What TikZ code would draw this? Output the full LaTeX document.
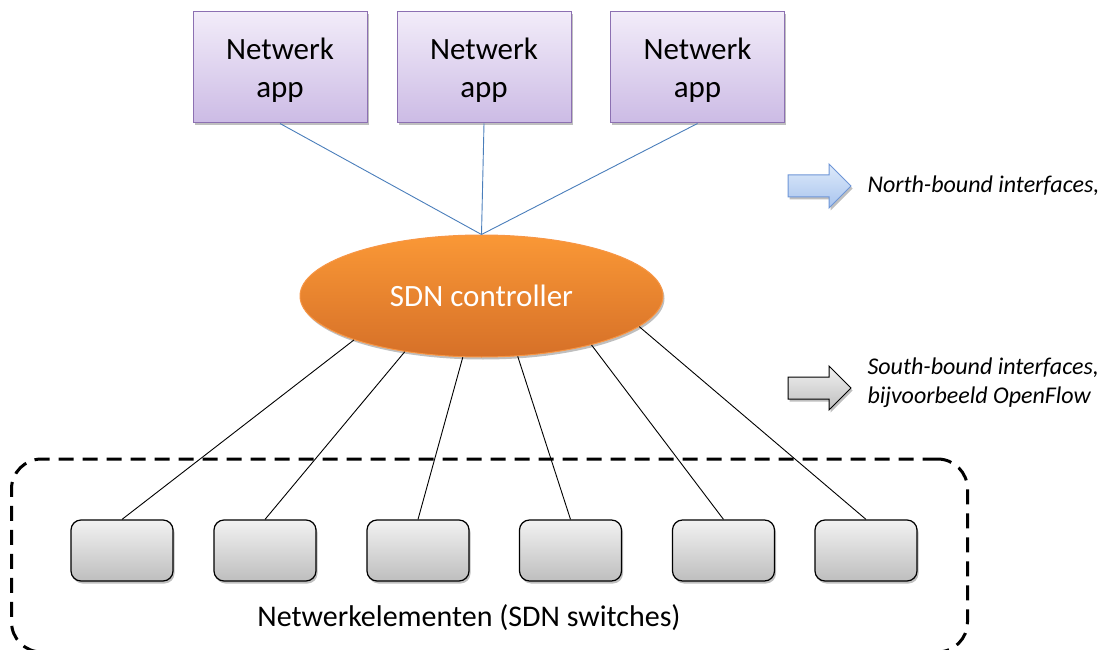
\documentclass[tikz,border=0pt]{standalone}
\usepackage{fontspec}
\setmainfont{Carlito}
\usetikzlibrary{shapes.geometric,shapes.arrows,shadows}

\definecolor{appTop}{RGB}{242,236,249}
\definecolor{appBot}{RGB}{204,187,229}
\definecolor{appLine}{RGB}{140,112,178}
\definecolor{ctlTop}{RGB}{250,152,54}
\definecolor{ctlBot}{RGB}{214,112,40}
\definecolor{ctlLine}{RGB}{247,150,70}
\definecolor{swTop}{RGB}{242,242,242}
\definecolor{swBot}{RGB}{190,190,190}
\definecolor{nbTop}{RGB}{222,234,250}
\definecolor{nbBot}{RGB}{168,196,238}
\definecolor{nbLine}{RGB}{110,150,215}
\definecolor{linkBlue}{RGB}{74,126,187}

\begin{document}
\begin{tikzpicture}[x=1pt,y=-1pt,
  shd/.style={drop shadow={shadow xshift=1.5pt,shadow yshift=-2.5pt,opacity=0.25,fill=black}},
  app/.style={draw=appLine,line width=1pt,top color=appTop,bottom color=appBot,
    minimum width=174pt,minimum height=111pt,align=center,text depth=0pt,shd,
    font=\fontsize{31}{38}\selectfont},
  ctl/.style={ellipse,draw=ctlLine,line width=1pt,top color=ctlTop,bottom color=ctlBot,
    minimum width=363pt,minimum height=122pt,inner sep=0pt,text=white,shd,
    font=\fontsize{31}{38}\selectfont},
  sw/.style={draw,line width=1.2pt,rounded corners=10pt,top color=swTop,bottom color=swBot,
    minimum width=102pt,minimum height=61pt,shd},
  grp/.style={draw,line width=3pt,dash pattern=on 15pt off 9pt,rounded corners=30pt,
    minimum width=956pt,minimum height=193pt},
  blk/.style={single arrow,inner sep=10.5pt,single arrow head extend=11pt,
    minimum height=63pt,line width=1pt,shd},
  note/.style={anchor=west,align=left,font=\fontsize{24}{29}\selectfont\itshape},
]
  \useasboundingbox (0,0) rectangle (1120,650);

  % applications
  \node[app] (app1) at (280,67.5)   {Netwerk\\app};
  \node[app] (app2) at (484,67.5)   {Netwerk\\app};
  \node[app] (app3) at (697.5,67.5) {Netwerk\\app};

  \node[ctl] (ctrl) at (481.5,296) {SDN controller};

  % switches
  \node[grp] (elems) at (489.5,555.5) {};
  \foreach \x [count=\i] in {122,265,418,570.5,723.5,866}
    \node[sw] (sw\i) at (\x,550.5) {};
  \node[anchor=base,font=\fontsize{30}{36}\selectfont] (lbl) at (469,626)
    {Netwerkelementen (SDN switches)};

  \foreach \a in {app1,app2,app3}
    \draw[linkBlue,line width=0.9pt] (\a.south) -- (ctrl.north);
  \foreach \ang/\s in {199/sw1,216/sw2,253/sw3,301/sw4,336/sw5,349/sw6}
    \draw[line width=0.9pt] (ctrl.\ang) -- (\s.north);

  % legend
  \node[blk,draw=nbLine,top color=nbTop,bottom color=nbBot] (nb) at (814,186) {};
  \node[note] (nbtxt) at (864,186) {North-bound interfaces,};
  \node[blk,draw=black,top color=swTop,bottom color=swBot] (sb) at (814,388) {};
  \node[note] (sbtxt) at (864,383) {South-bound interfaces,\\bijvoorbeeld OpenFlow};
\end{tikzpicture}
\end{document}
